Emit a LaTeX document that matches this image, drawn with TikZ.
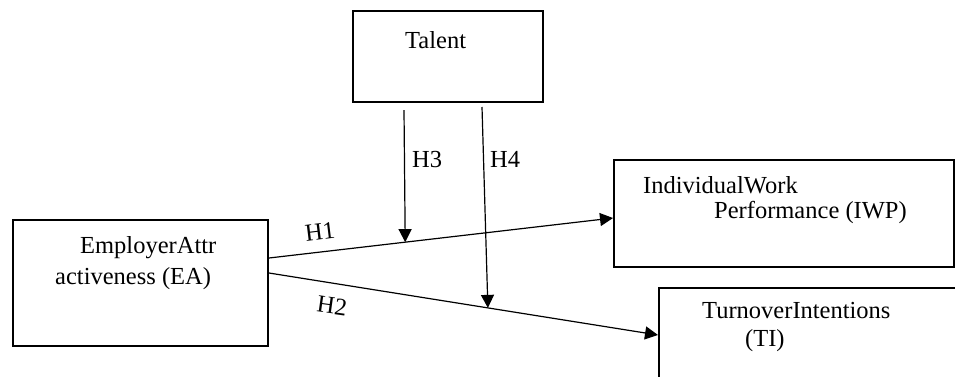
\documentclass[tikz,border=0pt]{standalone}
\usepackage{fontspec}
\setmainfont{Liberation Serif}
\usetikzlibrary{arrows.meta,calc}
\begin{document}
\begin{tikzpicture}[x=1pt,y=-1pt,
  box/.style={draw, line width=2pt, rectangle, inner sep=0pt, anchor=north west},
  lbl/.style={font=\fontsize{24.5}{28}\selectfont, inner sep=0pt, anchor=base west},
  hlbl/.style={font=\fontsize{24.5}{28}\selectfont, inner sep=0pt},
  arr/.style={line width=1.2pt, -{Triangle[length=13pt,width=13pt]}}]
\useasboundingbox (0,0) rectangle (955,376);
\clip (0,0) rectangle (955,376);
\fill[white] (0,0) rectangle (955,376);
% boxes
\node[box, minimum width=190pt, minimum height=91pt] (talent) at (352,10) {};
\node[box, minimum width=255pt, minimum height=126pt] (ea) at (12,219) {};
\node[box, minimum width=340pt, minimum height=107pt] (iwp) at (613,159) {};
\node[box, minimum width=330pt, minimum height=130pt] (ti) at (658,287) {};
% texts
\node[lbl] (talentT) at (405,48) {Talent};
\node[lbl] (eaT1) at (80,253) {EmployerAttr};
\node[lbl] (eaT2) at (55,284) {activeness (EA)};
\node[lbl] (iwpT1) at (643,193) {IndividualWork};
\node[lbl] (iwpT2) at (714,218) {Performance (IWP)};
\node[lbl] (tiT1) at (702,318) {TurnoverIntentions};
\node[lbl] (tiT2) at (745,346) {(TI)};
% connector end points
\coordinate (h1s) at ($(ea.north east)+(0,39)$);
\coordinate (h1e) at ($(iwp.north west)+(0,59)$);
\coordinate (h2s) at ($(ea.north east)+(0,54)$);
\coordinate (h2e) at ($(ti.north west)+(0,48)$);
\coordinate (h3s) at ($(talent.south west)+(52,7)$);
\coordinate (h4s) at ($(talent.south west)+(130,4)$);
% arrows
\draw[arr] (h1s) -- coordinate[pos=0.396] (m1) (h1e);
\draw[arr] (h2s) -- coordinate[pos=0.5627] (m2) (h2e);
\draw[arr] (h3s) -- (m1);
\draw[arr] (h4s) -- (m2);
% labels
\node[hlbl, rotate=7] (lH1) at (320,232) {H1};
\node[hlbl, rotate=-8] (lH2) at (332,306) {H2};
\node[hlbl, anchor=base west] (lH3) at (412,167) {H3};
\node[hlbl, anchor=base west] (lH4) at (490,167) {H4};
\end{tikzpicture}
\end{document}
